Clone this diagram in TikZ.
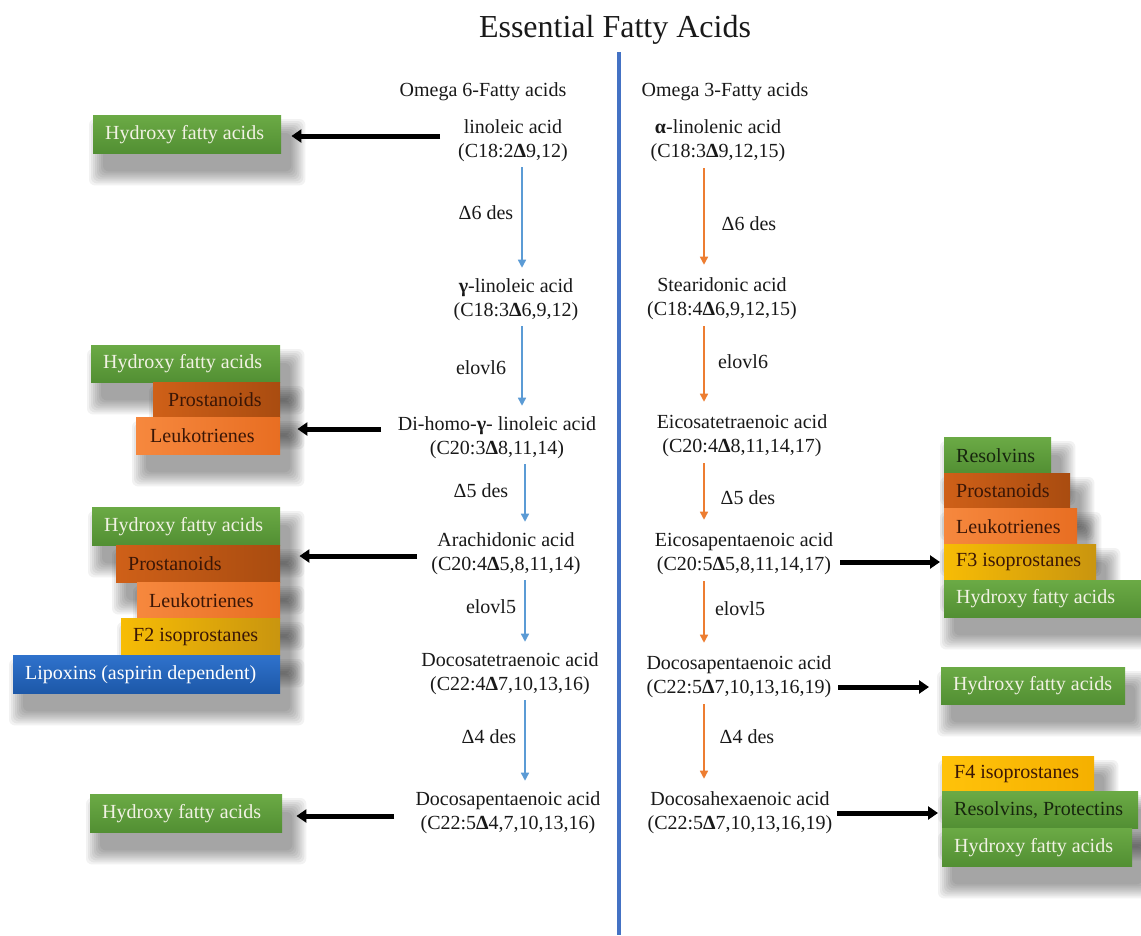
\documentclass[tikz,border=0pt]{standalone}
\usepackage{fontspec}
\setmainfont{Liberation Serif}
\usetikzlibrary{arrows.meta,backgrounds}
\definecolor{bluearr}{HTML}{5B9BD5}
\definecolor{orangearr}{HTML}{ED7D31}
\definecolor{divider}{HTML}{4472C4}
\definecolor{gTop}{HTML}{6BAA45}
\definecolor{gBot}{HTML}{528F33}
\definecolor{pL}{HTML}{CF6018}
\definecolor{pR}{HTML}{A94C10}
\definecolor{lL}{HTML}{F6883E}
\definecolor{lR}{HTML}{E86E22}
\definecolor{yL}{HTML}{F7BC05}
\definecolor{yR}{HTML}{C9950F}
\definecolor{fL}{HTML}{FFC20A}
\definecolor{fR}{HTML}{F5B000}
\definecolor{bTop}{HTML}{2F72CC}
\definecolor{bBot}{HTML}{1D58A8}
\definecolor{lightTxt}{HTML}{F2F2E4}
\definecolor{darkTxt}{HTML}{3A1606}
\definecolor{greenTxt}{HTML}{17260E}
\newcommand\bodyfont{\fontsize{20}{24}\selectfont}
\newcommand\lbox[2]{\makebox[#1pt][l]{#2}}
\tikzset{
  acid/.style={align=center, font=\bodyfont, inner sep=1pt, text=black!90},
  lab/.style={font=\bodyfont, inner sep=1pt, text=black!90},
  fbox/.style={anchor=north west, inner xsep=12pt, inner ysep=0pt, font=\bodyfont},
  gbox/.style={fbox, top color=gTop, bottom color=gBot, text=lightTxt},
  gdbox/.style={fbox, top color=gTop, bottom color=gBot, text=greenTxt},
  pbox/.style={fbox, left color=pL, right color=pR, text=darkTxt},
  ltbox/.style={fbox, left color=lL, right color=lR, text=darkTxt},
  ybox/.style={fbox, left color=yL, right color=yR, text=darkTxt},
  fbright/.style={fbox, left color=fL, right color=fR, text=darkTxt},
  bbox/.style={fbox, top color=bTop, bottom color=bBot, text=white},
  barr/.style={draw=bluearr, line width=1.4pt, -{Triangle[length=8pt,width=8pt]}, shorten <=4pt, shorten >=10pt},
  oarr/.style={draw=orangearr, line width=1.4pt, -{Triangle[length=8pt,width=8pt]}, shorten <=5pt, shorten >=12pt},
  blk/.style={draw=black, line width=5pt, -{Triangle[length=10pt,width=13pt]}},
  shadlayer/.style={fill=black, opacity=0.05},
}
\begin{document}
\begin{tikzpicture}[x=1pt,y=-1pt]
\useasboundingbox (0,0) rectangle (1141,935);

% title, headers, divider
\node[font=\fontsize{32}{38}\selectfont, text=black!90] (title) at (615,30) {Essential Fatty Acids};
\node[lab] (om6) at (483,92) {Omega 6-Fatty acids};
\node[lab] (om3) at (725,92) {Omega 3-Fatty acids};
\coordinate (dtop) at (619,52);
\coordinate (dbot) at (619,935);
\draw[divider, line width=4pt] (dtop) -- (dbot);

% omega 6 acids
\node[acid] (la)   at (513,141) {linoleic acid\\(C18:2\textbf{Δ}9,12)};
\node[acid] (gla)  at (516,300) {\textbf{γ}-linoleic acid\\(C18:3\textbf{Δ}6,9,12)};
\node[acid] (dgla) at (497,438) {Di-homo-\textbf{γ}- linoleic acid\\(C20:3\textbf{Δ}8,11,14)};
\node[acid] (aa)   at (506,554) {Arachidonic acid\\(C20:4\textbf{Δ}5,8,11,14)};
\node[acid] (dta)  at (510,674) {Docosatetraenoic acid\\(C22:4\textbf{Δ}7,10,13,16)};
\node[acid] (dpa6) at (508,813) {Docosapentaenoic acid\\(C22:5\textbf{Δ}4,7,10,13,16)};

% omega 3 acids
\node[acid] (ala)  at (718,141) {\textbf{α}-linolenic acid\\(C18:3\textbf{Δ}9,12,15)};
\node[acid] (sda)  at (722,299) {Stearidonic acid\\(C18:4\textbf{Δ}6,9,12,15)};
\node[acid] (eta)  at (742,436) {Eicosatetraenoic acid\\(C20:4\textbf{Δ}8,11,14,17)};
\node[acid] (epa)  at (744,554) {Eicosapentaenoic acid\\(C20:5\textbf{Δ}5,8,11,14,17)};
\node[acid] (dpa3) at (739,677) {Docosapentaenoic acid\\(C22:5\textbf{Δ}7,10,13,16,19)};
\node[acid] (dha)  at (740,813) {Docosahexaenoic acid\\(C22:5\textbf{Δ}7,10,13,16,19)};

% enzyme labels
\node[lab] (e1) at (486,213) {Δ6 des};
\node[lab] (e2) at (481,368) {elovl6};
\node[lab] (e3) at (481,491) {Δ5 des};
\node[lab] (e4) at (491,607) {elovl5};
\node[lab] (e5) at (489,737) {Δ4 des};
\node[lab] (f1) at (749,224) {Δ6 des};
\node[lab] (f2) at (743,362) {elovl6};
\node[lab] (f3l) at (748,498) {Δ5 des};
\node[lab] (f4l) at (740,609) {elovl5};
\node[lab] (f5) at (747,737) {Δ4 des};

% pathway arrows
\coordinate (xb1) at (522,0);
\coordinate (xb2) at (525,0);
\coordinate (xo) at (704,0);
\draw[barr] (la.south -| xb1) -- (gla.north -| xb1);
\draw[barr] (gla.south -| xb1) -- (dgla.north -| xb1);
\draw[barr] (dgla.south -| xb2) -- (aa.north -| xb2);
\draw[barr] (aa.south -| xb2) -- (dta.north -| xb2);
\draw[barr] (dta.south -| xb2) -- (dpa6.north -| xb2);
\draw[oarr] (ala.south -| xo) -- (sda.north -| xo);
\draw[oarr] (sda.south -| xo) -- (eta.north -| xo);
\draw[oarr] (eta.south -| xo) -- (epa.north -| xo);
\draw[oarr] (epa.south -| xo) -- (dpa3.north -| xo);
\draw[oarr] (dpa3.south -| xo) -- (dha.north -| xo);

% product boxes, left
\node[gbox, minimum height=38pt] (h1) at (93,115) {\lbox{164}{Hydroxy fatty acids}};

\node[gbox, minimum height=37pt] (h2) at (91,345) {\lbox{165}{Hydroxy fatty acids}};
\node[pbox, minimum height=35pt] (p2) at (153,382) {\lbox{103}{\hspace{3pt}Prostanoids}};
\node[ltbox, minimum height=37pt] (l2) at (136,417) {\lbox{120}{\hspace{2pt}Leukotrienes}};

\node[gbox, minimum height=38pt] (h3) at (92,507) {\lbox{164}{Hydroxy fatty acids}};
\node[pbox, minimum height=37pt] (p3) at (116,545) {\lbox{140}{Prostanoids}};
\node[ltbox, minimum height=36pt] (l3) at (137,582) {\lbox{119}{Leukotrienes}};
\node[ybox, minimum height=37pt] (fa) at (121,618) {\lbox{135}{F2 isoprostanes}};
\node[bbox, minimum height=38pt] (lx) at (13,655) {\lbox{243}{Lipoxins (aspirin dependent)}};

\node[gbox, minimum height=38pt] (h4) at (90,794) {\lbox{168}{Hydroxy fatty acids}};

% product boxes, right
\node[gdbox, minimum height=36pt] (r1) at (944,437) {\lbox{83}{Resolvins}};
\node[pbox, minimum height=35pt] (p5) at (944,473) {\lbox{102}{Prostanoids}};
\node[ltbox, minimum height=36pt] (l5) at (944,508) {\lbox{109}{Leukotrienes}};
\node[ybox, minimum height=36pt] (fb) at (944,544) {\lbox{128}{F3 isoprostanes}};
\node[gbox, minimum height=37pt] (h5) at (944,580) {\lbox{173}{Hydroxy fatty acids}};

\node[gbox, minimum height=37pt] (h6) at (941,667) {\lbox{160}{Hydroxy fatty acids}};

\node[fbright, minimum height=35pt] (fc) at (942,756) {\lbox{128}{F4 isoprostanes}};
\node[gdbox, minimum height=37pt] (rp) at (942,791) {\lbox{172}{Resolvins, Protectins}};
\node[gbox, minimum height=38pt] (h7) at (942,828) {\lbox{166}{Hydroxy fatty acids}};

% white page and soft shadows behind the boxes (one group per stack)
\begin{pgfonlayer}{background}
\fill[white] (0,0) rectangle (1141,935);
\foreach \grp in {{h1},{h2,p2,l2},{h3,p3,l3,fa,lx},{h4},{r1,p5,l5,fb,h5},{h6},{fc,rp,h7}}{
  \foreach \k in {0,...,7}{
    \pgfmathsetmacro\e{14-2*\k}
    \foreach \n in \grp
      \fill[shadlayer, rounded corners=6pt]
        ([xshift={(10-\e)*1pt}, yshift={(-18+\e)*1pt}]\n.north west)
        rectangle ([xshift={(10+\e)*1pt}, yshift={(-18-\e)*1pt}]\n.south east);
  }
}
\end{pgfonlayer}

% black product arrows
\coordinate (s1) at ([xshift=-73pt, yshift=5pt]la.center);
\coordinate (s2) at ([xshift=-116pt, yshift=9pt]dgla.center);
\coordinate (s3) at ([xshift=-89pt, yshift=-2pt]aa.center);
\coordinate (s4) at ([xshift=-114pt, yshift=-3pt]dpa6.center);
\coordinate (s5) at ([xshift=96pt, yshift=-8pt]epa.center);
\coordinate (s6) at ([xshift=99pt, yshift=-10pt]dpa3.center);
\coordinate (s7) at ([xshift=97pt]dha.center);
\draw[blk, shorten >=10pt] (s1) -- (s1 -| h1.east);
\draw[blk, shorten >=17pt] (s2) -- (s2 -| l2.east);
\draw[blk, shorten >=19pt] (s3) -- (s3 -| p3.east);
\draw[blk, shorten >=14pt] (s4) -- (s4 -| h4.east);
\draw[blk, shorten >=4pt] (s5) -- (s5 -| fb.west);
\draw[blk, shorten >=12pt] (s6) -- (s6 -| h6.west);
\draw[blk, shorten >=4pt] (s7) -- (s7 -| rp.west);
\end{tikzpicture}
\end{document}
